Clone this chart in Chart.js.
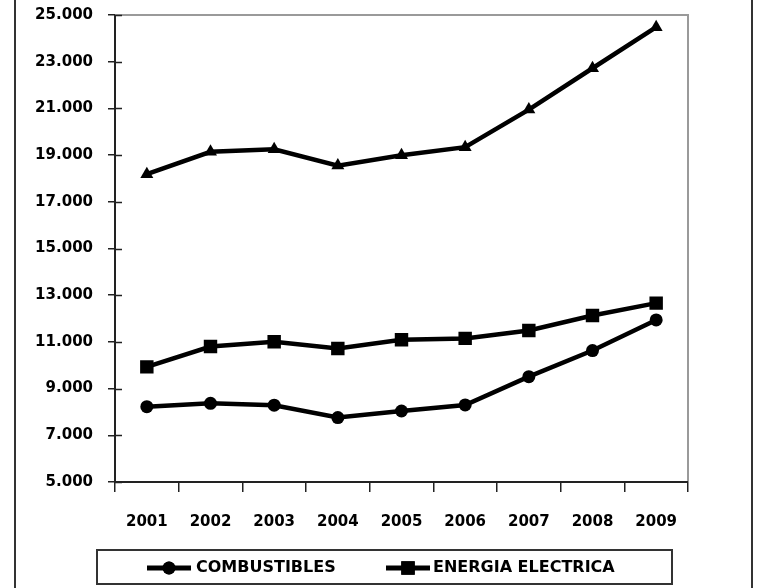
<!DOCTYPE html>
<html>
<head>
<meta charset="utf-8">
<script src="https://cdn.jsdelivr.net/npm/chart.js@4/dist/chart.umd.min.js"></script>
<style>
  html, body { margin: 0; padding: 0; background: #fff; }
  #wrap { width: 759px; height: 588px; position: relative; }
</style>
</head>
<body>
<div id="wrap"><canvas id="c" width="759" height="588"></canvas></div>
<script>
// Years on the horizontal axis
const years = ['2001', '2002', '2003', '2004', '2005', '2006', '2007', '2008', '2009'];
// Fuel spending
const combustibles = [8225, 8370, 8290, 7760, 8040, 8300, 9510, 10630, 11940];
// Electricity spending
const energiaElectrica = [9930, 10800, 11010, 10720, 11090, 11150, 11490, 12130, 12660];
// Combined total
const total = [18180, 19140, 19250, 18550, 18990, 19340, 20950, 22720, 24480];
// Value axis ticks
const yTicks = [5000, 7000, 9000, 11000, 13000, 15000, 17000, 19000, 21000, 23000, 25000];
// Series shown in the legend box
const legendLabels = ['COMBUSTIBLES', 'ENERGIA ELECTRICA'];

const FONT = '"DejaVu Sans", sans-serif';
const fmtThousands = v => String(Math.round(v)).replace(/\B(?=(\d{3})+(?!\d))/g, '.');

// Frame, axis lines, inward tick marks and the legend box
const decorations = {
  id: 'decorations',
  beforeDatasetsDraw(chart) {
    const { ctx, chartArea: a, scales } = chart;
    ctx.save();
    // outer frame verticals
    ctx.strokeStyle = '#333';
    ctx.lineWidth = 2;
    ctx.beginPath();
    ctx.moveTo(15, 0); ctx.lineTo(15, 588);
    ctx.moveTo(752, 0); ctx.lineTo(752, 588);
    ctx.stroke();
    // plot border: top and right light grey
    ctx.strokeStyle = '#9a9a9a';
    ctx.lineWidth = 2;
    ctx.beginPath();
    ctx.moveTo(a.left, a.top); ctx.lineTo(a.right, a.top); ctx.lineTo(a.right, a.bottom);
    ctx.stroke();
    // axes
    ctx.strokeStyle = '#222';
    ctx.lineWidth = 2;
    ctx.beginPath();
    ctx.moveTo(a.left, a.top); ctx.lineTo(a.left, a.bottom); ctx.lineTo(a.right, a.bottom);
    ctx.stroke();
    // inward half of the value-axis tick marks
    ctx.lineWidth = 1.5;
    ctx.beginPath();
    scales.y.ticks.forEach(t => {
      const y = Math.round(scales.y.getPixelForValue(t.value)) + 0.5;
      ctx.moveTo(a.left, y); ctx.lineTo(a.left + 7, y);
    });
    ctx.stroke();
    ctx.restore();
  },
  afterDraw(chart) {
    const { ctx } = chart;
    ctx.save();
    // legend box
    const bx = 97, by = 550, bw = 575, bh = 34;
    ctx.strokeStyle = '#333';
    ctx.lineWidth = 2;
    ctx.strokeRect(bx, by, bw, bh);
    const cy = by + bh / 2 + 1;
    const items = [
      { ds: chart.data.datasets[0], x0: 147, x1: 191, tx: 196 },
      { ds: chart.data.datasets[1], x0: 386, x1: 430, tx: 433 }
    ];
    items.forEach((it, i) => {
      ctx.strokeStyle = '#000';
      ctx.lineWidth = 5;
      ctx.beginPath();
      ctx.moveTo(it.x0, cy); ctx.lineTo(it.x1, cy);
      ctx.stroke();
      ctx.fillStyle = '#000';
      const mx = (it.x0 + it.x1) / 2;
      Chart.helpers.drawPoint(ctx, {
        pointStyle: it.ds.pointStyle,
        radius: it.ds.pointRadius,
        borderWidth: 0
      }, mx, cy);
      ctx.fill();
      ctx.font = 'bold 16px ' + FONT;
      ctx.textBaseline = 'middle';
      ctx.textAlign = 'left';
      ctx.fillText(legendLabels[i], it.tx, cy);
    });
    ctx.restore();
  }
};

new Chart(document.getElementById('c'), {
  type: 'line',
  data: {
    labels: years,
    datasets: [
      {
        label: legendLabels[0],
        data: combustibles,
        borderColor: '#000', backgroundColor: '#000',
        borderWidth: 4.5, pointStyle: 'circle', pointRadius: 6.5,
        pointBorderWidth: 0, tension: 0
      },
      {
        label: legendLabels[1],
        data: energiaElectrica,
        borderColor: '#000', backgroundColor: '#000',
        borderWidth: 4.5, pointStyle: 'rect', pointRadius: 9.5,
        pointBorderWidth: 0, tension: 0
      },
      {
        label: 'TOTAL',
        data: total,
        borderColor: '#000', backgroundColor: '#000',
        borderWidth: 4.5, pointStyle: 'triangle', pointRadius: 7.5,
        pointBorderWidth: 0, tension: 0
      }
    ]
  },
  options: {
    responsive: false,
    animation: false,
    layout: { padding: { left: 0, top: 15, right: 71, bottom: 56 } },
    plugins: {
      legend: { display: false },
      tooltip: { enabled: false }
    },
    scales: {
      x: {
        offset: true,
        grid: {
          offset: true, drawOnChartArea: false, drawTicks: true,
          tickLength: 10, color: '#222', lineWidth: 1.5
        },
        border: { display: false },
        ticks: {
          color: '#000', padding: 21,
          font: { family: FONT, size: 15, weight: 'bold' },
          maxRotation: 0
        },
        afterFit(scale) { scale.height = 50; scale.paddingLeft = 0; scale.paddingRight = 0; }
      },
      y: {
        min: 5000, max: 25000,
        afterBuildTicks(scale) { scale.ticks = yTicks.map(v => ({ value: v })); },
        grid: {
          drawOnChartArea: false, drawTicks: true,
          tickLength: 7, color: '#222', lineWidth: 1.5
        },
        border: { display: false },
        ticks: {
          color: '#000', padding: 15,
          font: { family: FONT, size: 15, weight: 'bold' },
          callback: v => fmtThousands(v)
        },
        afterFit(scale) {
          scale.width = 115;
          scale.paddingTop = 0;
          scale.paddingBottom = 0;
        }
      }
    }
  },
  plugins: [decorations]
});
</script>
</body>
</html>
